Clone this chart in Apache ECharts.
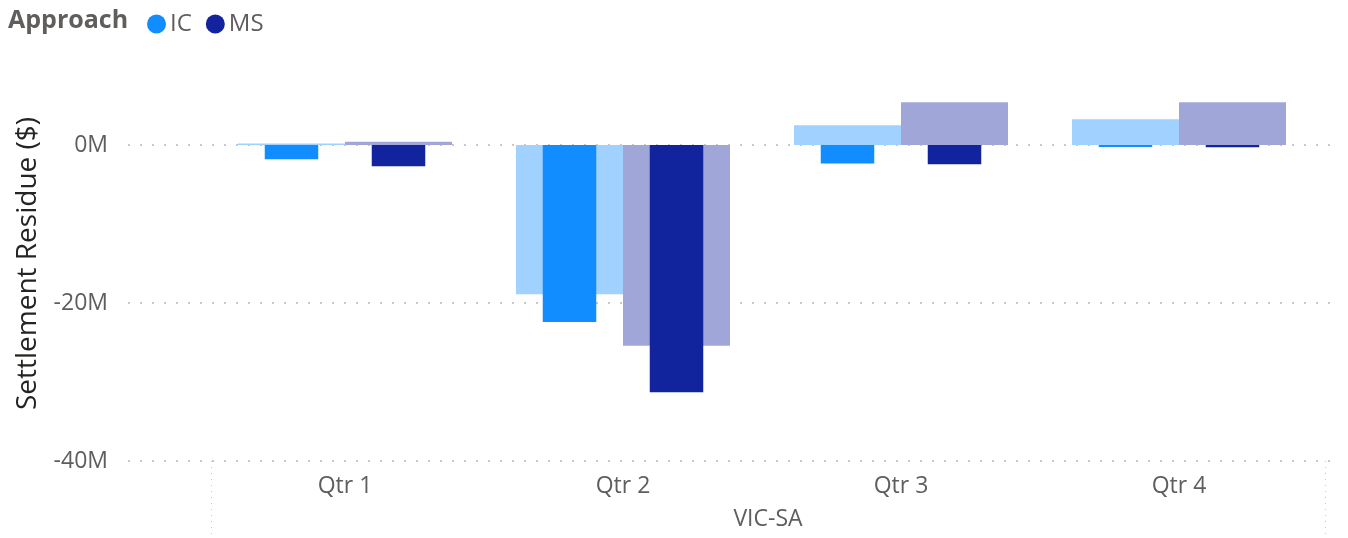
<!DOCTYPE html>
<html>
<head>
<meta charset="utf-8">
<script src="https://cdn.jsdelivr.net/npm/echarts@6/dist/echarts.min.js"></script>
<style>
html,body{margin:0;padding:0;background:#fff;}
#c{width:1348px;height:538px;}
</style>
</head>
<body>
<div id="c"></div>
<script>
const categories = ['Qtr 1', 'Qtr 2', 'Qtr 3', 'Qtr 4'];
const groupLabel = ['VIC-SA'];
const icBackground = [0.2, -18.9, 2.5, 3.25];
const msBackground = [0.4, -25.4, 5.4, 5.4];
const icValues = [-1.8, -22.4, -2.35, -0.25];
const msValues = [-2.7, -31.3, -2.45, -0.3];
const yTicks = { min: -40, max: 10, interval: 20 };

const FONT = "'Segoe UI', 'Open Sans', sans-serif";
const GREY = '#605E5C';

const chart = echarts.init(document.getElementById('c'));
chart.setOption({
  animation: false,
  title: {
    text: 'Approach', left: 3, top: 3,
    textStyle: { fontFamily: FONT, fontSize: 25, fontWeight: 'bold', color: GREY }
  },
  legend: {
    data: ['IC', 'MS'], left: 142, top: 7, icon: 'circle',
    itemWidth: 19, itemHeight: 19, itemGap: 14,
    textStyle: { fontFamily: FONT, fontSize: 24, color: GREY, padding: [0, 0, 0, -1] }
  },
  grid: [
    { left: 128, right: 8, top: 66, bottom: 77 },
    { left: 206, right: 30, top: 66, bottom: 77 },
    { left: 211, right: 23, top: 66, bottom: 77 }
  ],
  xAxis: [
    { type: 'category', gridIndex: 0, data: [], show: false },
    { type: 'category', gridIndex: 1, data: categories, position: 'bottom', offset: 0,
      axisLine: { show: false, onZero: false }, axisTick: { show: false },
      axisLabel: { fontFamily: FONT, fontSize: 23, color: GREY, margin: 14 } },
    { type: 'category', gridIndex: 2, data: groupLabel, position: 'bottom', offset: 0,
      axisLine: { show: false, onZero: false },
      axisTick: { show: true, length: 77, lineStyle: { color: '#c8c8c8', type: [1, 5] } },
      axisLabel: { fontFamily: FONT, fontSize: 23, color: GREY, margin: 47 } },
    { type: 'category', gridIndex: 1, data: categories, show: false, axisLine: { onZero: false } }
  ],
  yAxis: [
    { type: 'value', gridIndex: 0, min: yTicks.min, max: yTicks.max, interval: yTicks.interval,
      axisLine: { show: false }, axisTick: { show: false },
      axisLabel: { fontFamily: FONT, fontSize: 23, color: GREY, margin: 20, showMaxLabel: false,
        formatter: v => v + 'M' },
      splitLine: { show: true, lineStyle: { color: ['#c8c8c8', '#c8c8c8', '#c8c8c8', 'rgba(0,0,0,0)'], type: [2, 10], width: 2 } },
      name: 'Settlement Residue ($)', nameLocation: 'middle', nameRotate: 90, nameGap: 86,
      nameTextStyle: { fontFamily: FONT, fontSize: 28, color: '#252423' } },
    { type: 'value', gridIndex: 1, min: yTicks.min, max: yTicks.max, interval: yTicks.interval, show: false,
      splitLine: { show: false } },
    { type: 'value', gridIndex: 2, min: yTicks.min, max: yTicks.max, interval: yTicks.interval, show: false,
      splitLine: { show: false } }
  ],
  series: [
    { name: 'IC background', type: 'bar', xAxisIndex: 1, yAxisIndex: 1, data: icBackground,
      barWidth: 107, barGap: '0%', itemStyle: { color: '#A0D1FF' } },
    { name: 'MS background', type: 'bar', xAxisIndex: 1, yAxisIndex: 1, data: msBackground,
      barWidth: 107, barGap: '0%', itemStyle: { color: '#A0A7D8' } },
    { name: 'IC', type: 'bar', xAxisIndex: 3, yAxisIndex: 1, data: icValues,
      barWidth: 53.5, barGap: '100%', itemStyle: { color: '#118DFF' } },
    { name: 'MS', type: 'bar', xAxisIndex: 3, yAxisIndex: 1, data: msValues,
      barWidth: 53.5, barGap: '100%', itemStyle: { color: '#12239E' } }
  ]
});
</script>
</body>
</html>
